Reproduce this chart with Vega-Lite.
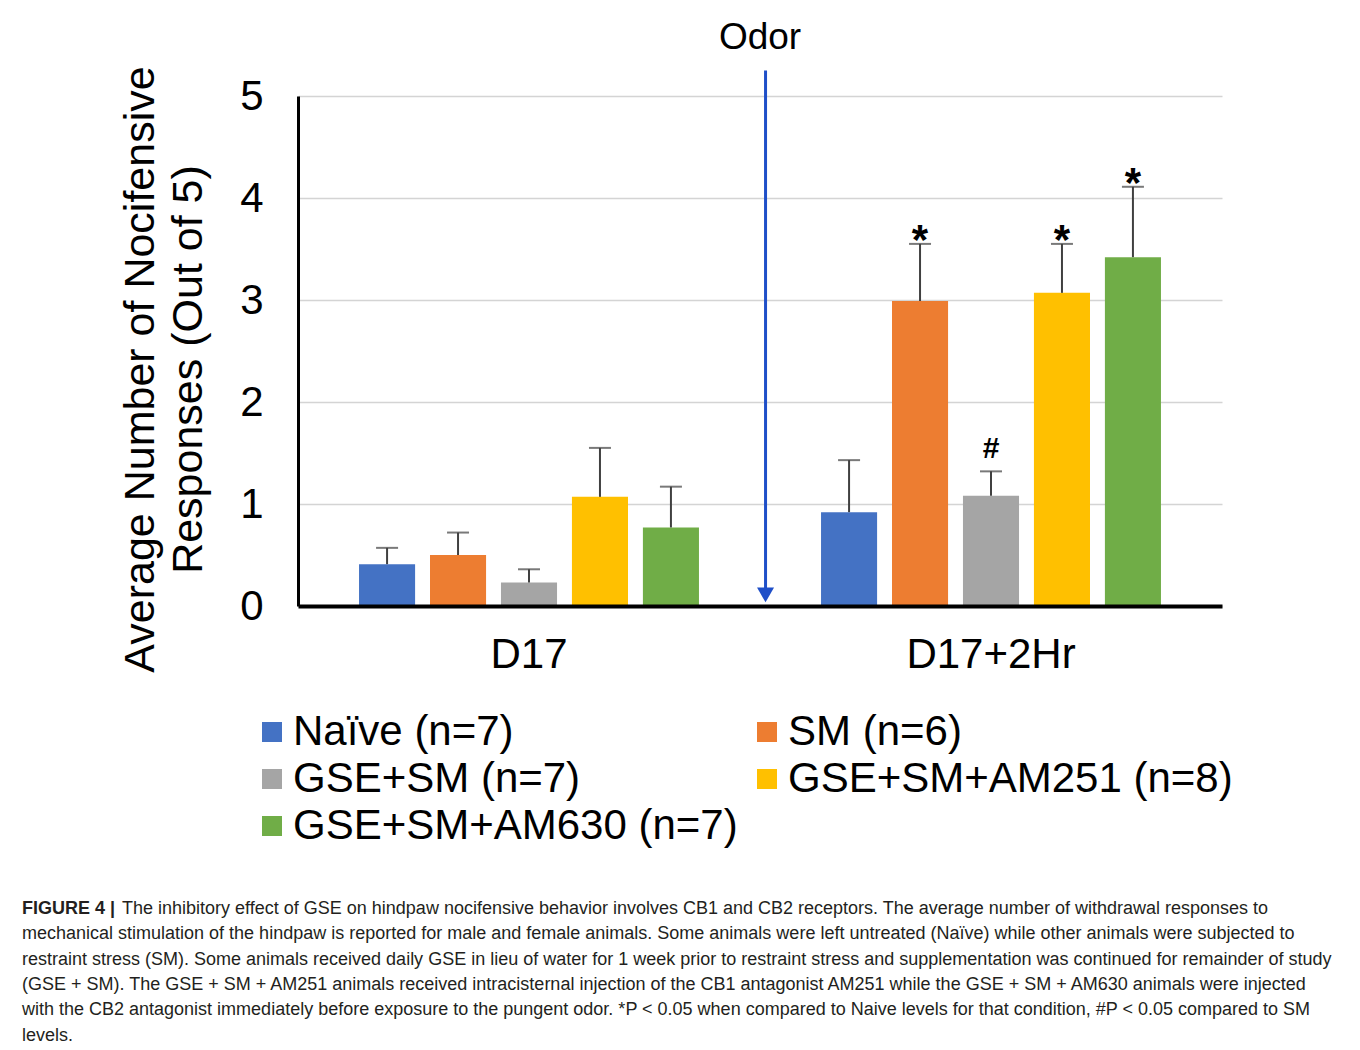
{
  "$schema": "https://vega.github.io/schema/vega-lite/v6.json",
  "width": 924,
  "height": 510,
  "autosize": {"type": "none"},
  "padding": {"left": 298, "top": 96, "right": 138, "bottom": 444},
  "background": "white",
  "config": {
    "font": "Liberation Sans",
    "view": {"stroke": null},
    "legend": {"labelFont": "Liberation Sans"},
    "axis": {"labelFont": "Liberation Sans", "titleFont": "Liberation Sans"}
  },
  "title": {
    "text": "FIGURE 4 |",
    "subtitle": [
      "\u200b\u00a0\u00a0\u00a0\u00a0\u00a0\u00a0\u00a0\u00a0\u00a0\u00a0\u00a0\u00a0\u00a0\u00a0\u00a0\u00a0\u00a0\u00a0\u00a0\u00a0The inhibitory effect of GSE on hindpaw nocifensive behavior involves CB1 and CB2 receptors. The average number of withdrawal responses to",
      "mechanical stimulation of the hindpaw is reported for male and female animals. Some animals were left untreated (Naïve) while other animals were subjected to",
      "restraint stress (SM). Some animals received daily GSE in lieu of water for 1 week prior to restraint stress and supplementation was continued for remainder of study",
      "(GSE + SM). The GSE + SM + AM251 animals received intracisternal injection of the CB1 antagonist AM251 while the GSE + SM + AM630 animals were injected",
      "with the CB2 antagonist immediately before exposure to the pungent odor. *P < 0.05 when compared to Naive levels for that condition, #P < 0.05 compared to SM",
      "levels."
    ],
    "orient": "bottom",
    "anchor": "start",
    "frame": "group",
    "dx": -276,
    "offset": 53,
    "font": "Liberation Sans",
    "fontSize": 18,
    "fontWeight": "bold",
    "color": "#231f20",
    "subtitleFont": "Liberation Sans",
    "subtitleFontSize": 18,
    "subtitleFontWeight": "normal",
    "subtitleColor": "#231f20",
    "subtitleLineHeight": 25.3,
    "subtitlePadding": -18
  },
  "data": {
    "values": [
      {"time": "D17", "group": "Naïve (n=7)", "mean": 0.41, "upper": 0.57, "sig": ""},
      {"time": "D17", "group": "SM (n=6)", "mean": 0.50, "upper": 0.72, "sig": ""},
      {"time": "D17", "group": "GSE+SM (n=7)", "mean": 0.23, "upper": 0.36, "sig": ""},
      {"time": "D17", "group": "GSE+SM+AM251 (n=8)", "mean": 1.07, "upper": 1.55, "sig": ""},
      {"time": "D17", "group": "GSE+SM+AM630 (n=7)", "mean": 0.77, "upper": 1.17, "sig": ""},
      {"time": "D17+2Hr", "group": "Naïve (n=7)", "mean": 0.92, "upper": 1.43, "sig": ""},
      {"time": "D17+2Hr", "group": "SM (n=6)", "mean": 2.99, "upper": 3.55, "sig": "*"},
      {"time": "D17+2Hr", "group": "GSE+SM (n=7)", "mean": 1.08, "upper": 1.32, "sig": "#"},
      {"time": "D17+2Hr", "group": "GSE+SM+AM251 (n=8)", "mean": 3.07, "upper": 3.55, "sig": "*"},
      {"time": "D17+2Hr", "group": "GSE+SM+AM630 (n=7)", "mean": 3.42, "upper": 4.11, "sig": "*"}
    ]
  },
  "layer": [
    {
      "mark": {"type": "bar"},
      "encoding": {
        "x": {
          "field": "time", "type": "nominal", "sort": ["D17", "D17+2Hr"],
          "scale": {"paddingInner": 0, "paddingOuter": 0},
          "axis": {
            "title": null, "labelAngle": 0, "labelFontSize": 42, "labelPadding": 28,
            "labelColor": "black", "ticks": false, "domainColor": "black", "domainWidth": 4,
            "grid": false, "zindex": 1
          }
        },
        "xOffset": {
          "field": "group", "type": "nominal",
          "sort": ["Naïve (n=7)", "SM (n=6)", "GSE+SM (n=7)", "GSE+SM+AM251 (n=8)", "GSE+SM+AM630 (n=7)"],
          "scale": {"paddingInner": 0.21, "paddingOuter": 0.86}
        },
        "y": {
          "field": "mean", "type": "quantitative",
          "scale": {"domain": [0, 5], "nice": false},
          "axis": {
            "values": [0, 1, 2, 3, 4, 5], "format": "d", "grid": true, "gridColor": "#d4d4d4", "gridWidth": 1.5,
            "domainColor": "black", "domainWidth": 3, "ticks": false,
            "labelFontSize": 42, "labelPadding": 35, "labelColor": "black",
            "title": ["Average Number of Nocifensive", "Responses (Out of 5)"],
            "titleFontSize": 43, "titleFontWeight": "normal", "titleLineHeight": 48,
            "titleColor": "black", "titleAngle": -90, "titleX": -136, "titleY": 273,
            "titleAlign": "center", "titleBaseline": "bottom"
          }
        },
        "color": {
          "field": "group", "type": "nominal",
          "scale": {
            "domain": ["Naïve (n=7)", "SM (n=6)", "GSE+SM (n=7)", "GSE+SM+AM251 (n=8)", "GSE+SM+AM630 (n=7)"],
            "range": ["#4472C4", "#ED7D31", "#A5A5A5", "#FFC000", "#70AD47"]
          },
          "legend": {
            "title": null, "orient": "none", "legendX": -47, "legendY": 615,
            "columns": 2, "direction": "horizontal", "symbolType": "square", "symbolSize": 400,
            "symbolStrokeWidth": 0, "labelFontSize": 42, "labelColor": "black",
            "labelOffset": 0, "rowPadding": 5, "columnPadding": 8, "padding": 0,
            "labelLimit": 600
          }
        }
      }
    },
    {
      "mark": {"type": "rule", "color": "#404040", "strokeWidth": 2},
      "encoding": {
        "x": {"field": "time", "type": "nominal", "sort": ["D17", "D17+2Hr"]},
        "xOffset": {"field": "group", "type": "nominal", "sort": ["Naïve (n=7)", "SM (n=6)", "GSE+SM (n=7)", "GSE+SM+AM251 (n=8)", "GSE+SM+AM630 (n=7)"]},
        "y": {"field": "mean", "type": "quantitative"},
        "y2": {"field": "upper"}
      }
    },
    {
      "mark": {"type": "tick", "color": "#404040", "thickness": 2, "size": 22},
      "encoding": {
        "x": {"field": "time", "type": "nominal", "sort": ["D17", "D17+2Hr"]},
        "xOffset": {"field": "group", "type": "nominal", "sort": ["Naïve (n=7)", "SM (n=6)", "GSE+SM (n=7)", "GSE+SM+AM251 (n=8)", "GSE+SM+AM630 (n=7)"]},
        "y": {"field": "upper", "type": "quantitative"}
      }
    },
    {
      "transform": [{"filter": "datum.sig === '*'"}],
      "mark": {"type": "text", "fontSize": 42, "fontWeight": "bold", "color": "black", "baseline": "alphabetic", "dy": 10},
      "encoding": {
        "x": {"field": "time", "type": "nominal", "sort": ["D17", "D17+2Hr"]},
        "xOffset": {"field": "group", "type": "nominal", "sort": ["Naïve (n=7)", "SM (n=6)", "GSE+SM (n=7)", "GSE+SM+AM251 (n=8)", "GSE+SM+AM630 (n=7)"]},
        "y": {"field": "upper", "type": "quantitative"},
        "text": {"field": "sig"}
      }
    },
    {
      "transform": [{"filter": "datum.sig === '#'"}],
      "mark": {"type": "text", "fontSize": 30, "fontWeight": "bold", "color": "black", "baseline": "alphabetic", "dy": -13},
      "encoding": {
        "x": {"field": "time", "type": "nominal", "sort": ["D17", "D17+2Hr"]},
        "xOffset": {"field": "group", "type": "nominal", "sort": ["Naïve (n=7)", "SM (n=6)", "GSE+SM (n=7)", "GSE+SM+AM251 (n=8)", "GSE+SM+AM630 (n=7)"]},
        "y": {"field": "upper", "type": "quantitative"},
        "text": {"field": "sig"}
      }
    },
    {
      "data": {"values": [{"event": "Odor"}]},
      "mark": {"type": "rule", "color": "#1f4fc8", "strokeWidth": 3},
      "encoding": {
        "x": {"datum": "D17+2Hr", "bandPosition": 0.012},
        "y": {"datum": 5.25},
        "y2": {"datum": 0.12}
      }
    },
    {
      "data": {"values": [{"event": "Odor"}]},
      "mark": {"type": "point", "shape": "triangle-down", "filled": true, "color": "#1f4fc8", "size": 289, "opacity": 1},
      "encoding": {
        "x": {"datum": "D17+2Hr", "bandPosition": 0.012},
        "y": {"datum": 0.108}
      }
    },
    {
      "data": {"values": [{"event": "Odor"}]},
      "mark": {"type": "text", "fontSize": 37, "color": "black", "baseline": "middle", "align": "center"},
      "encoding": {
        "x": {"datum": "D17+2Hr", "bandPosition": 0},
        "y": {"datum": 5.57},
        "text": {"field": "event"}
      }
    }
  ]
}
